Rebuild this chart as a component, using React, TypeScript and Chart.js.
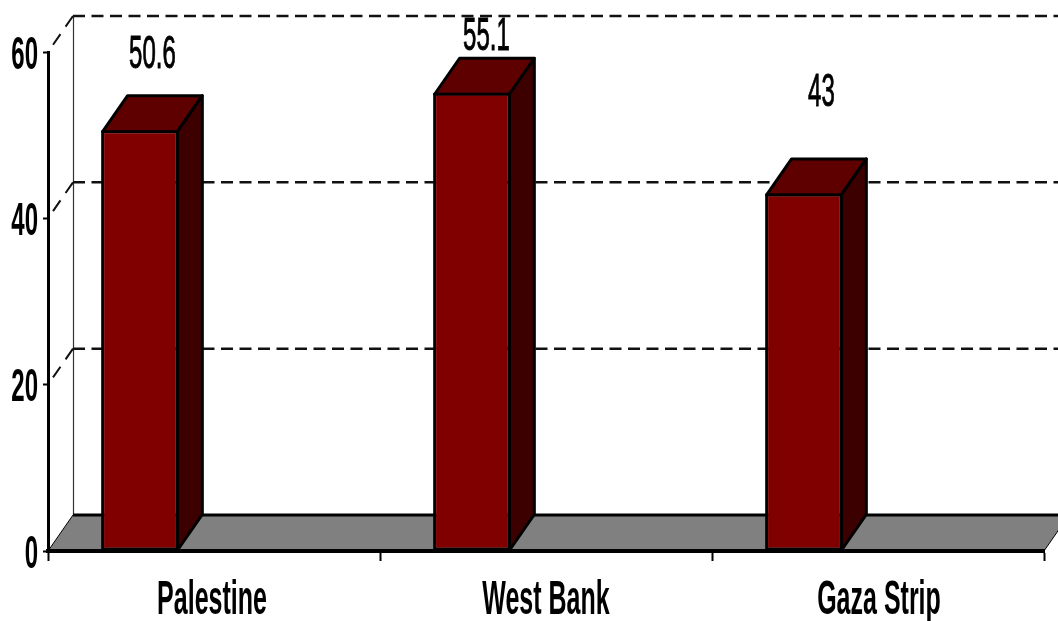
import React, { useEffect, useRef } from "react";
import { Chart, registerables } from "chart.js";

Chart.register(...registerables);

const categories = ["Palestine", "West Bank", "Gaza Strip"];
const rates = [50.6, 55.1, 43];
const valueTexts = ["50.6", "55.1", "43"];
const yTicks = [0, 20, 40, 60];

// How far each value caption floats above its column's top face, and its sideways nudge.
const captionLift = [26, 7, 51];
const captionNudge = [0, 2, 5];
const categoryNudge = [-2, 0, 1];

const DEPTH_X = 25;
const DEPTH_Y = -36;
const FRONT = "#800000";
const TOP_FACE = "#5f0000";
const SIDE_FACE = "#3c0000";
const FLOOR = "#808080";
const INK = "#000000";
const FONT_FAMILY = '"Liberation Sans", Arial, sans-serif';

// Text in this chart is tall and tight, so it is drawn with a vertical stretch.
function tallText(
  ctx: CanvasRenderingContext2D,
  text: string,
  x: number,
  baseline: number,
  align: CanvasTextAlign,
  weight: string,
  size: number,
  outline = 0
) {
  ctx.save();
  ctx.translate(x, baseline);
  ctx.scale(1, 1.9);
  ctx.font = `${weight} ${size}px ${FONT_FAMILY}`;
  ctx.textAlign = align;
  ctx.textBaseline = "alphabetic";
  ctx.fillStyle = INK;
  ctx.fillText(text, 0, 0);
  if (outline > 0) {
    ctx.strokeStyle = INK;
    ctx.lineWidth = outline;
    ctx.strokeText(text, 0, 0);
  }
  ctx.restore();
}

function polygon(
  ctx: CanvasRenderingContext2D,
  pts: [number, number][],
  fill: string,
  lineWidth: number
) {
  ctx.beginPath();
  pts.forEach(([x, y], i) => (i ? ctx.lineTo(x, y) : ctx.moveTo(x, y)));
  ctx.closePath();
  ctx.fillStyle = fill;
  ctx.fill();
  ctx.lineWidth = lineWidth;
  ctx.strokeStyle = INK;
  ctx.lineJoin = "round";
  ctx.stroke();
}

const backdrop = {
  id: "backdrop",
  beforeDraw(chart: any) {
    const { ctx, chartArea, scales } = chart;
    const y = scales.y;
    const left = chartArea.left;
    const right = chartArea.right;
    const zero = y.getPixelForValue(0);
    ctx.save();

    // Back wall: left edge, dashed levels and the dashed diagonals out to the axis.
    ctx.strokeStyle = "#333333";
    ctx.lineWidth = 1.2;
    ctx.beginPath();
    ctx.moveTo(left + DEPTH_X + 0.5, y.getPixelForValue(60) + DEPTH_Y);
    ctx.lineTo(left + DEPTH_X + 0.5, zero + DEPTH_Y);
    ctx.stroke();

    yTicks.forEach((t) => {
      if (t === 0) return;
      const py = y.getPixelForValue(t);
      ctx.strokeStyle = "#111111";
      ctx.lineWidth = 2.5;
      ctx.setLineDash([12, 6.5]);
      ctx.beginPath();
      ctx.moveTo(left + DEPTH_X, py + DEPTH_Y);
      ctx.lineTo(right + DEPTH_X, py + DEPTH_Y);
      ctx.stroke();
      ctx.lineWidth = 2;
      ctx.setLineDash([13, 9]);
      ctx.beginPath();
      ctx.moveTo(left + DEPTH_X, py + DEPTH_Y);
      ctx.lineTo(left, py);
      ctx.stroke();
    });
    ctx.setLineDash([]);

    // Floor slab under the columns.
    ctx.beginPath();
    ctx.moveTo(left, zero);
    ctx.lineTo(left + DEPTH_X, zero + DEPTH_Y);
    ctx.lineTo(right + DEPTH_X, zero + DEPTH_Y);
    ctx.lineTo(right, zero);
    ctx.closePath();
    ctx.fillStyle = FLOOR;
    ctx.fill();
    ctx.strokeStyle = INK;
    ctx.lineWidth = 1;
    ctx.stroke();
    ctx.lineWidth = 3;
    ctx.beginPath();
    ctx.moveTo(left + DEPTH_X, zero + DEPTH_Y);
    ctx.lineTo(right + DEPTH_X, zero + DEPTH_Y);
    ctx.stroke();
    ctx.restore();
  },
};

const columnFaces = {
  id: "columnFaces",
  beforeDatasetsDraw(chart: any) {
    const { ctx } = chart;
    const meta = chart.getDatasetMeta(0);
    ctx.save();
    meta.data.forEach((bar: any) => {
      const half = bar.width / 2 - 1.5;
      const l = bar.x - half;
      const r = bar.x + half;
      const t = bar.y + 1.5;
      const b = bar.base;
      polygon(
        ctx,
        [
          [l, t],
          [l + DEPTH_X, t + DEPTH_Y],
          [r + DEPTH_X, t + DEPTH_Y],
          [r, t],
        ],
        TOP_FACE,
        3
      );
      polygon(
        ctx,
        [
          [r, t],
          [r + DEPTH_X, t + DEPTH_Y],
          [r + DEPTH_X, b + DEPTH_Y],
          [r, b],
        ],
        SIDE_FACE,
        3
      );
    });
    ctx.restore();
  },
};

const captions = {
  id: "captions",
  afterDraw(chart: any) {
    const { ctx, scales, chartArea } = chart;
    const meta = chart.getDatasetMeta(0);
    meta.data.forEach((bar: any, i: number) => {
      const x = bar.x + DEPTH_X / 2 + captionNudge[i];
      const topFace = bar.y + DEPTH_Y;
      tallText(ctx, valueTexts[i], x, topFace - captionLift[i], "center", "normal", 24, 0.5);
    });
    scales.y.ticks.forEach((tick: any) => {
      tallText(ctx, String(tick.value), 38, scales.y.getPixelForValue(tick.value) + 16.5, "right", "bold", 24);
    });
    categories.forEach((name, i) => {
      tallText(ctx, name, scales.x.getPixelForValue(i) + categoryNudge[i], chartArea.bottom + 63, "center", "bold", 25);
    });
  },
};

export default function App() {
  const ref = useRef<HTMLCanvasElement | null>(null);

  useEffect(() => {
    if (!ref.current) return;
    const chart = new Chart(ref.current, {
      type: "bar",
      data: {
        labels: categories,
        datasets: [
          {
            label: "Rate",
            data: rates,
            backgroundColor: FRONT,
            borderColor: INK,
            borderWidth: 3,
            borderSkipped: false,
            barPercentage: 1.05,
            categoryPercentage: 0.669,
          },
          // Two blank series keep each column in the left third of its category.
          { label: "", data: [null, null, null], barPercentage: 1.05, categoryPercentage: 0.669 },
          { label: "", data: [null, null, null], barPercentage: 1.05, categoryPercentage: 0.669 },
        ],
      },
      options: {
        animation: false,
        responsive: false,
        layout: { padding: { left: 43, top: 52, right: 14, bottom: 60 } },
        plugins: { legend: { display: false }, tooltip: { enabled: false } },
        scales: {
          x: {
            grid: {
              drawOnChartArea: false,
              drawTicks: true,
              tickLength: 10,
              tickWidth: 2,
              tickColor: INK,
              offset: true,
            },
            border: { display: true, color: INK, width: 4 },
            ticks: { display: false },
          },
          y: {
            min: 0,
            max: 60,
            afterBuildTicks: (axis: any) => {
              axis.ticks = yTicks.map((value) => ({ value }));
            },
            grid: {
              drawOnChartArea: false,
              drawTicks: true,
              tickLength: 5,
              tickWidth: 2,
              tickColor: INK,
            },
            border: { display: true, color: INK, width: 3 },
            ticks: { display: false },
          },
        },
      },
      plugins: [backdrop, columnFaces, captions],
    } as any);
    return () => chart.destroy();
  }, []);

  return (
    <canvas
      ref={ref}
      width={1058}
      height={621}
      style={{ position: "fixed", left: 0, top: 0, width: 1058, height: 621, display: "block" }}
    />
  );
}
